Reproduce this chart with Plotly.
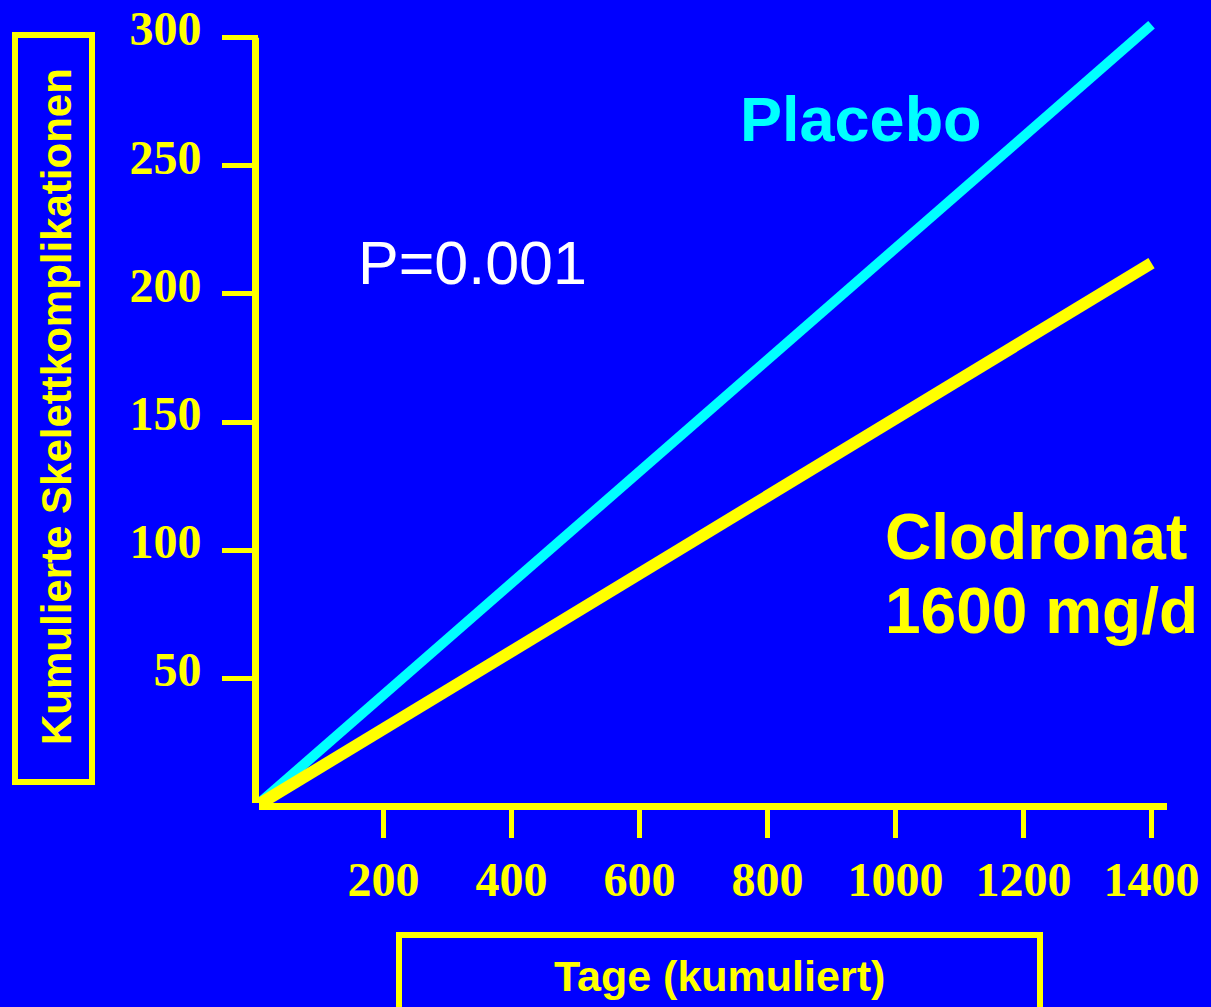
import plotly.graph_objects as go

# ---- data ----
days = [0, 1400]
placebo = [0, 305]
clodronat = [0, 212]
x_tick_vals = [200, 400, 600, 800, 1000, 1200, 1400]
x_tick_text = ["200", "400", "600", "800", "1000", "1200", "1400"]
y_tick_vals = [50, 100, 150, 200, 250, 300]
y_tick_text = ["50", "100", "150", "200", "250", "300"]
y_axis_top = 300

BLUE = "#0000FF"
YELLOW = "#FFFF00"
CYAN = "#00FFFF"
SANS = "Arial, Liberation Sans, sans-serif"
SERIF = "Times New Roman, Liberation Serif, serif"

W, H = 1211, 1007
L, R, T, B = 259, 1167, 12, 803


def px(x):
    return (x - L) / (R - L)


def py(y):
    return (B - y) / (B - T)


fig = go.Figure()
fig.add_trace(go.Scatter(x=days, y=placebo, mode="lines",
                         line=dict(color=CYAN, width=10), showlegend=False))
fig.add_trace(go.Scatter(x=days, y=clodronat, mode="lines",
                         line=dict(color=YELLOW, width=12), showlegend=False))

tickfont = dict(family=SERIF, size=48, color=YELLOW, weight="bold")

fig.update_xaxes(range=[5.47, 1424.2], tickvals=x_tick_vals, ticktext=x_tick_text,
                 showgrid=False, zeroline=False, showline=True, automargin=False,
                 linecolor=YELLOW, linewidth=7, ticks="outside",
                 tickcolor=YELLOW, tickwidth=5, ticklen=28,
                 ticklabelstandoff=0, tickfont=tickfont)
fig.update_yaxes(range=[1.37, 310], tickvals=y_tick_vals, ticktext=y_tick_text,
                 showgrid=False, zeroline=False, showline=False, automargin=False,
                 ticks="outside", tickcolor=YELLOW, tickwidth=5, ticklen=36,
                 ticklabelstandoff=11, ticklabelshift=-9, tickfont=tickfont)

shapes = [
    # y-axis line (stops at the top value like the original)
    dict(type="line", xref="paper", yref="y",
         x0=px(255.5), x1=px(255.5), y0=-1.5, y1=y_axis_top,
         line=dict(color=YELLOW, width=7), layer="above"),
    dict(type="rect", xref="paper", yref="paper",
         x0=px(15), x1=px(92), y0=py(35), y1=py(782),
         line=dict(color=YELLOW, width=6), fillcolor="rgba(0,0,0,0)", layer="above"),
    dict(type="rect", xref="paper", yref="paper",
         x0=px(399), x1=px(1040), y0=py(935), y1=py(1030),
         line=dict(color=YELLOW, width=6), fillcolor="rgba(0,0,0,0)", layer="above"),
]

annotations = [
    dict(text="Kumulierte Skelettkomplikationen", x=px(56), y=py(407), textangle=-90,
         font=dict(family=SANS, size=42, color=YELLOW, weight="bold")),
    dict(text="Tage (kumuliert)", x=px(719), y=py(976),
         font=dict(family=SANS, size=43, color=YELLOW, weight="bold")),
    dict(text="Placebo", x=px(861), y=py(119),
         font=dict(family=SANS, size=63, color=CYAN, weight="bold")),
    dict(text="P=0.001", x=px(472), y=py(263),
         font=dict(family=SANS, size=61, color="white")),
    dict(text="Clodronat", x=px(883), y=py(537), xanchor="left",
         font=dict(family=SANS, size=64, color=YELLOW, weight="bold")),
    dict(text="1600 mg/d", x=px(883), y=py(611), xanchor="left",
         font=dict(family=SANS, size=64, color=YELLOW, weight="bold")),
]
for a in annotations:
    a.setdefault("xanchor", "center")
    a.update(xref="paper", yref="paper", yanchor="middle", showarrow=False)

fig.update_layout(width=W, height=H, paper_bgcolor=BLUE, plot_bgcolor=BLUE,
                  margin=dict(l=L, r=W - R, t=T, b=H - B, autoexpand=False),
                  shapes=shapes, annotations=annotations, showlegend=False)

fig.write_html("out.html")
